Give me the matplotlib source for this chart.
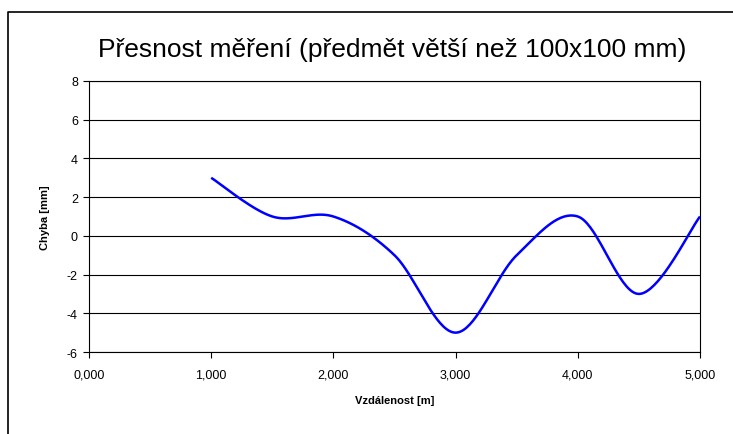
import numpy as np
import matplotlib
matplotlib.use("Agg")
import matplotlib.pyplot as plt
from matplotlib.ticker import FuncFormatter, MultipleLocator
from matplotlib.lines import Line2D

plt.rcParams['font.family'] = ['Liberation Sans', 'DejaVu Sans']

distance = [1.0, 1.5, 2.0, 2.5, 3.0, 3.5, 4.0, 4.5, 5.0]
error_mm = [3, 1, 1, -1, -5, -1, 1, -3, 1]


def smooth(xs, ys, n=40):
    # Excel-like smoothed line (Catmull-Rom through the points)
    x = np.array(xs, float)
    y = np.array(ys, float)
    px = np.concatenate([[x[0]], x, [x[-1]]])
    py = np.concatenate([[y[0]], y, [y[-1]]])
    out_x, out_y = [], []
    t = np.linspace(0, 1, n)
    for i in range(1, len(px) - 2):
        mx0 = (px[i + 1] - px[i - 1]) / 2
        mx1 = (px[i + 2] - px[i]) / 2
        my0 = (py[i + 1] - py[i - 1]) / 2
        my1 = (py[i + 2] - py[i]) / 2
        h00 = 2 * t**3 - 3 * t**2 + 1
        h10 = t**3 - 2 * t**2 + t
        h01 = -2 * t**3 + 3 * t**2
        h11 = t**3 - t**2
        out_x.extend(h00 * px[i] + h10 * mx0 + h01 * px[i + 1] + h11 * mx1)
        out_y.extend(h00 * py[i] + h10 * my0 + h01 * py[i + 1] + h11 * my1)
    return np.array(out_x), np.array(out_y)


fig = plt.figure(figsize=(7.33, 4.35), dpi=100)
ax = fig.add_axes([89 / 733, 1 - 353 / 435, (700 - 89) / 733, (353 - 82) / 435])

sx, sy = smooth(distance, error_mm)
ax.plot(sx, sy, color='#0000FF', lw=1.8, solid_capstyle='butt', zorder=3)

ax.set_xlim(0, 5)
ax.set_ylim(-6, 8)
ax.xaxis.set_major_locator(MultipleLocator(1))
ax.yaxis.set_major_locator(MultipleLocator(2))
ax.xaxis.set_major_formatter(FuncFormatter(lambda v, p: f'{v:.3f}'.replace('.', ',')))
ax.yaxis.set_major_formatter(FuncFormatter(lambda v, p: f'{v:.0f}'))
ax.grid(axis='y', color='black', lw=0.8)
ax.tick_params(direction='out', length=4, width=0.8, labelsize=9)
ax.tick_params(axis='x', pad=8)
ax.tick_params(axis='y', pad=4)
for s in ax.spines.values():
    s.set_linewidth(0.8)

ax.set_xlabel('Vzdálenost [m]', fontsize=8, fontweight='bold', labelpad=10)
ax.set_ylabel('Chyba [mm]', fontsize=8, fontweight='bold', labelpad=12)
fig.text(392 / 733, 1 - 50 / 435, 'Přesnost měření (předmět větší než 100x100 mm)',
         ha='center', va='center', fontsize=19)

# chart frame (left and top edge visible)
fig.add_artist(Line2D([8 / 733, 8 / 733, 1.0], [0.0, 1 - 13 / 435, 1 - 13 / 435],
                      transform=fig.transFigure, color='black', lw=1.2))

fig.savefig('out.png', dpi=100)
